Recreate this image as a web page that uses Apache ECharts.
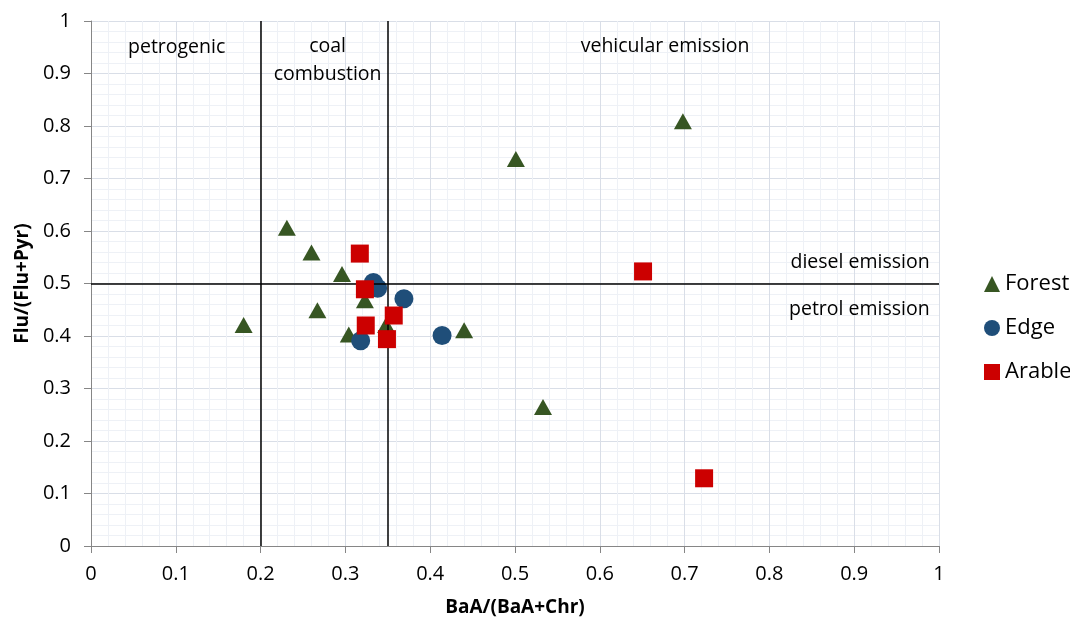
<!DOCTYPE html>
<html>
<head>
<meta charset="utf-8">
<script src="https://cdn.jsdelivr.net/npm/echarts@6/dist/echarts.min.js"></script>
<style>
  html, body { margin: 0; padding: 0; background: #fff; overflow: hidden; }
  #chart { width: 1070px; height: 622px; }
</style>
</head>
<body>
<div id="chart"></div>
<script>
// Diagnostic ratios: x = BaA/(BaA+Chr), y = Flu/(Flu+Pyr)
const forestX = [0.698, 0.501, 0.231, 0.260, 0.296, 0.180, 0.267, 0.304, 0.323, 0.348, 0.440, 0.533];
const forestY = [0.809, 0.737, 0.606, 0.559, 0.518, 0.421, 0.449, 0.403, 0.468, 0.421, 0.411, 0.265];

const edgeX = [0.333, 0.338, 0.369, 0.318, 0.414];
const edgeY = [0.502, 0.491, 0.471, 0.391, 0.401];

const arableX = [0.317, 0.323, 0.357, 0.324, 0.349, 0.651, 0.723];
const arableY = [0.557, 0.489, 0.439, 0.420, 0.394, 0.523, 0.129];

// Source-apportionment boundaries
const xBounds = [0.2, 0.35];
const yBounds = [0.5];

// Region captions: [text, x, y, horizontal align]
const regionLabels = [
  ['petrogenic', 0.101, 0.949, 'center'],
  ['coal\ncombustion', 0.279, 0.925, 'center'],
  ['vehicular emission', 0.677, 0.951, 'center'],
  ['diesel emission', 0.989, 0.540, 'right'],
  ['petrol emission', 0.989, 0.451, 'right']
];

const tickLabels = ['0', '0.1', '0.2', '0.3', '0.4', '0.5', '0.6', '0.7', '0.8', '0.9', '1'];

const FONT = '"Open Sans", sans-serif';
const zip = (xs, ys) => xs.map((x, i) => [x, ys[i]]);

const axisCommon = {
  type: 'value', min: 0, max: 1, interval: 0.1,
  axisLine: { show: true, lineStyle: { color: '#868686', width: 1 } },
  axisTick: { show: true, inside: false, length: 7, lineStyle: { color: '#868686' } },
  axisLabel: {
    color: '#000', fontFamily: FONT, fontSize: 20,
    formatter: v => tickLabels[Math.round(v * 10)]
  },
  splitLine: { show: true, lineStyle: { color: '#d9dee7', width: 1 } },
  minorTick: { show: false, splitNumber: 5 },
  minorSplitLine: { show: true, lineStyle: { color: '#eef1f6', width: 1 } }
};

const titleStyle = { fontFamily: FONT, fontSize: 19, fontWeight: 'bold', color: '#000' };

const chart = echarts.init(document.getElementById('chart'), null, { renderer: 'canvas' });

chart.setOption({
  animation: false,
  backgroundColor: '#ffffff',
  grid: { left: 91, top: 21, width: 848, height: 528, containLabel: false },
  xAxis: Object.assign({}, axisCommon, {
    name: 'BaA/(BaA+Chr)', nameLocation: 'middle', nameGap: 52,
    nameTextStyle: titleStyle,
    axisLabel: Object.assign({}, axisCommon.axisLabel, { margin: 18 })
  }),
  yAxis: Object.assign({}, axisCommon, {
    name: 'Flu/(Flu+Pyr)', nameLocation: 'middle', nameGap: 59, nameRotate: 90,
    nameTextStyle: titleStyle,
    axisLabel: Object.assign({}, axisCommon.axisLabel, { margin: 20 })
  }),
  legend: {
    orient: 'vertical', left: 979, top: 268,
    data: ['Forest', 'Edge', 'Arable'],
    itemWidth: 16, itemHeight: 16, itemGap: 22,
    textStyle: { fontFamily: FONT, fontSize: 22, color: '#000' }
  },
  series: [
    {
      name: 'guides', type: 'scatter', data: [], silent: true,
      markLine: {
        silent: true, symbol: 'none', animation: false,
        label: { show: false },
        lineStyle: { color: '#000', width: 1.5, type: 'solid' },
        data: xBounds.map(v => ({ xAxis: v })).concat(yBounds.map(v => ({ yAxis: v })))
      },
      markPoint: {
        silent: true, symbol: 'circle', symbolSize: 0, animation: false,
        data: regionLabels.map(([t, x, y, a]) => ({
          coord: [x, y],
          label: {
            show: true, position: 'inside', formatter: t, align: a,
            fontFamily: FONT, fontSize: 19.5, lineHeight: 28, color: '#000'
          }
        }))
      }
    },
    {
      name: 'Forest', type: 'scatter', symbol: 'triangle', symbolSize: [18, 16], z: 3,
      itemStyle: { color: '#375623', opacity: 1 },
      data: zip(forestX, forestY)
    },
    {
      name: 'Edge', type: 'scatter', symbol: 'circle', symbolSize: 19, z: 4,
      itemStyle: { color: '#1f4e79', opacity: 1 },
      data: zip(edgeX, edgeY)
    },
    {
      name: 'Arable', type: 'scatter', symbol: 'rect', symbolSize: 18, z: 5,
      itemStyle: { color: '#cc0000', opacity: 1 },
      data: zip(arableX, arableY)
    }
  ]
});
</script>
</body>
</html>
